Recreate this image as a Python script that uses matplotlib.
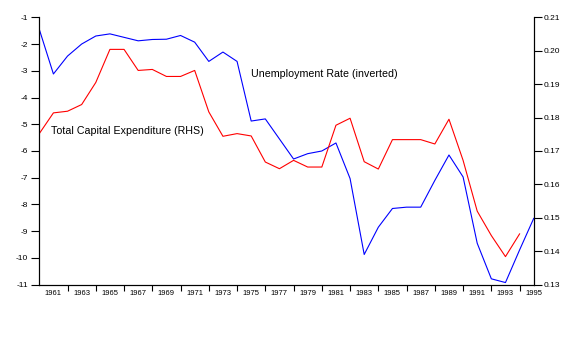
import matplotlib.pyplot as plt
import numpy as np

plt.rcParams['font.family'] = ['Liberation Sans', 'DejaVu Sans']

# Data
years = np.arange(1960, 1996)
unemployment_inv = [-1.45, -3.12, -2.45, -2.00, -1.70, -1.62, -1.75, -1.88, -1.83, -1.82,
                    -1.68, -1.93, -2.65, -2.30, -2.65, -4.88, -4.80, -5.55, -6.30, -6.10,
                    -6.00, -5.70, -7.03, -9.87, -8.85, -8.15, -8.10, -8.10, -7.10, -6.15,
                    -6.97, -9.45, -10.78, -10.92, -9.70, -8.52]
capex_years = np.arange(1960, 1995)
capex = [0.1752, 0.1814, 0.1819, 0.1839, 0.1905, 0.2004, 0.2004, 0.1941, 0.1944, 0.1923,
         0.1923, 0.1941, 0.1817, 0.1744, 0.1752, 0.1745, 0.1667, 0.1647, 0.1672, 0.1652,
         0.1652, 0.1777, 0.1798, 0.1668, 0.1646, 0.1734, 0.1734, 0.1734, 0.1721, 0.1795,
         0.1672, 0.1520, 0.1447, 0.1384, 0.1452]
left_ticks = list(range(-11, 0))
right_ticks = [0.13, 0.14, 0.15, 0.16, 0.17, 0.18, 0.19, 0.20, 0.21]

fig = plt.figure(figsize=(5.76, 3.41), dpi=100)
ax = fig.add_axes([0.0682, 0.1651, 0.8584, 0.7842])
ax2 = ax.twinx()

ax.plot(years, unemployment_inv, color='#0000ff', lw=0.8)
ax2.plot(capex_years, capex, color='#ff0000', lw=0.8)

ax.set_xlim(1960, 1995)
ax.set_ylim(-11, -1)
ax2.set_ylim(0.13, 0.21)

ax.set_yticks(left_ticks)
ax.set_yticklabels([str(t) for t in left_ticks])
ax2.set_yticks(right_ticks)
ax2.set_yticklabels(['%.2f' % t for t in right_ticks])

# ticks on even years, labels on odd years
ax.set_xticks(np.arange(1962, 1995, 2))
ax.set_xticklabels([])
ax.set_xticks(np.arange(1961, 1996, 2), minor=True)
ax.set_xticklabels([str(y) for y in range(1961, 1996, 2)], minor=True)
ax.tick_params(axis='x', which='major', direction='out', length=4, width=0.8)
ax.tick_params(axis='x', which='minor', length=0, pad=4, labelsize=5.5)
ax.tick_params(axis='y', direction='out', length=6, width=0.8, labelsize=6, pad=2)
ax2.tick_params(axis='y', direction='out', length=6, width=0.8, labelsize=6, pad=1)

for a in (ax, ax2):
    a.spines['top'].set_visible(False)
    for s in ('left', 'right', 'bottom'):
        a.spines[s].set_linewidth(0.8)

ax.text(1975.0, -3.12, 'Unemployment Rate (inverted)', fontsize=7.7, va='center', ha='left')
ax.text(1960.8, -5.25, 'Total Capital Expenditure (RHS)', fontsize=7.7, va='center', ha='left')

fig.savefig('out.png', dpi=100)
